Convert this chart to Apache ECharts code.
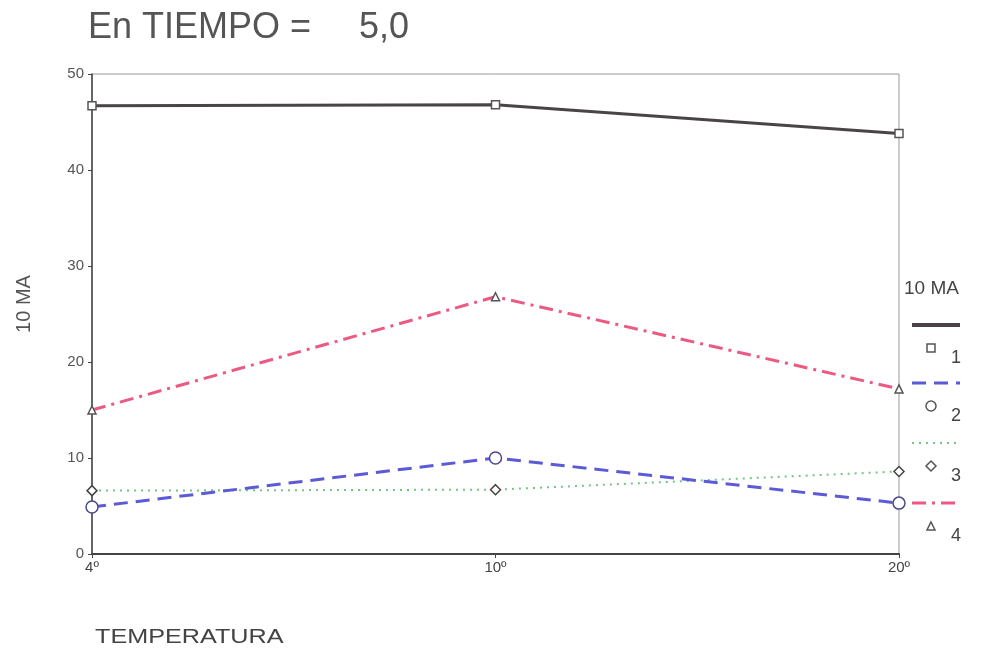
<!DOCTYPE html>
<html>
<head>
<meta charset="utf-8">
<script src="https://cdn.jsdelivr.net/npm/echarts@6/dist/echarts.min.js"></script>
<style>html,body{margin:0;padding:0;background:#fff}#c{width:985px;height:655px}</style>
</head>
<body>
<div id="c"></div>
<script>
var categories = ['4\u00ba', '10\u00ba', '20\u00ba'];
var seriesNames = ['1', '2', '3', '4'];
var s1 = [46.7, 46.8, 43.8];
var s2 = [4.9, 10.0, 5.3];
var s3 = [6.6, 6.7, 8.6];
var s4 = [15.0, 26.8, 17.2];
var yTicks = [0, 10, 20, 30, 40, 50];

var font = 'Liberation Sans, Arial, sans-serif';
var colors = ['#4a4448', '#5c5ad6', '#74c484', '#ec5a82'];
var dashes = ['solid', [14, 8], [2, 5], [14, 6, 3, 6]];
var widths = [3, 3, 2, 3];
var symbols = ['rect', 'circle', 'diamond', 'triangle'];
var symSizes = [8, 12, 10, 8];
var symBorder = ['#555', '#4a4a8a', '#444', '#555'];
var datas = [s1, s2, s3, s4];

var chart = echarts.init(document.getElementById('c'), null, {renderer: 'canvas'});

var series = datas.map(function (d, i) {
  return {
    name: seriesNames[i],
    type: 'line',
    data: d,
    symbol: symbols[i],
    symbolSize: symSizes[i],
    showAllSymbol: true,
    lineStyle: {color: colors[i], width: widths[i], type: dashes[i]},
    itemStyle: {color: '#fff', borderColor: symBorder[i], borderWidth: 1.5},
    z: 10 - i
  };
});

// legend drawn as graphic, built from series styles
var graphics = [
  {type: 'text', left: 88, top: 10, style: {text: 'En TIEMPO =', font: '36px ' + font, fill: '#555'}},
  {type: 'text', left: 359, top: 10, style: {text: '5,0', font: '36px ' + font, fill: '#555'}},
  {type: 'text', x: 95, y: 627, scaleX: 1.2, style: {text: 'TEMPERATURA', font: '21px ' + font, fill: '#444'}},
  {type: 'text', left: 904, top: 279, style: {text: '10 MA', font: '19px ' + font, fill: '#444'}}
];
var lx0 = 912, lx1 = 960;
var lineY = [325, 383, 443, 503];
var symPaths = {
  rect: function (cx, cy) { return {type: 'rect', shape: {x: cx - 4, y: cy - 4, width: 8, height: 8}}; },
  circle: function (cx, cy) { return {type: 'circle', shape: {cx: cx, cy: cy, r: 5}}; },
  diamond: function (cx, cy) { return {type: 'polygon', shape: {points: [[cx, cy - 5], [cx + 5, cy], [cx, cy + 5], [cx - 5, cy]]}}; },
  triangle: function (cx, cy) { return {type: 'polygon', shape: {points: [[cx, cy - 4], [cx + 4, cy + 4], [cx - 4, cy + 4]]}}; }
};
seriesNames.forEach(function (n, i) {
  var ly = lineY[i];
  var dash = dashes[i] === 'solid' ? null : dashes[i];
  graphics.push({type: 'line', shape: {x1: lx0, y1: ly, x2: lx1, y2: ly},
    style: {stroke: colors[i], lineWidth: i === 0 ? 4 : widths[i], lineDash: dash}});
  var sym = symPaths[symbols[i]](931, ly + 23);
  sym.style = {fill: '#fff', stroke: '#555', lineWidth: 1.5};
  graphics.push(sym);
  graphics.push({type: 'text', left: 951, top: ly + 24, style: {text: n, font: '18px ' + font, fill: '#444'}});
});

chart.setOption({
  animation: false,
  backgroundColor: '#fff',
  textStyle: {fontFamily: font},
  grid: {left: 92, right: 86, top: 74, bottom: 101, show: true, borderColor: '#999', borderWidth: 1},
  xAxis: {
    type: 'category',
    data: categories,
    boundaryGap: false,
    axisLine: {lineStyle: {color: '#444', width: 2}},
    axisTick: {show: true, alignWithLabel: true, length: 4, lineStyle: {color: '#444'}},
    axisLabel: {color: '#444', fontSize: 15, margin: 6, fontFamily: font},
    splitLine: {show: false}
  },
  yAxis: {
    type: 'value',
    min: 0, max: 50, interval: 10,
    axisLine: {show: true, lineStyle: {color: '#444', width: 1.5}},
    axisTick: {show: true, length: 4, lineStyle: {color: '#444'}},
    axisLabel: {color: '#555', fontSize: 15, margin: 8, fontFamily: font},
    splitLine: {show: false},
    name: '10 MA',
    nameLocation: 'middle',
    nameGap: 68,
    nameRotate: 90,
    nameTextStyle: {color: '#555', fontSize: 20, fontFamily: font, padding: [0, 0, 0, 20], align: 'center', verticalAlign: 'middle', lineHeight: 20}
  },
  series: series,
  graphic: graphics
});
</script>
</body>
</html>
